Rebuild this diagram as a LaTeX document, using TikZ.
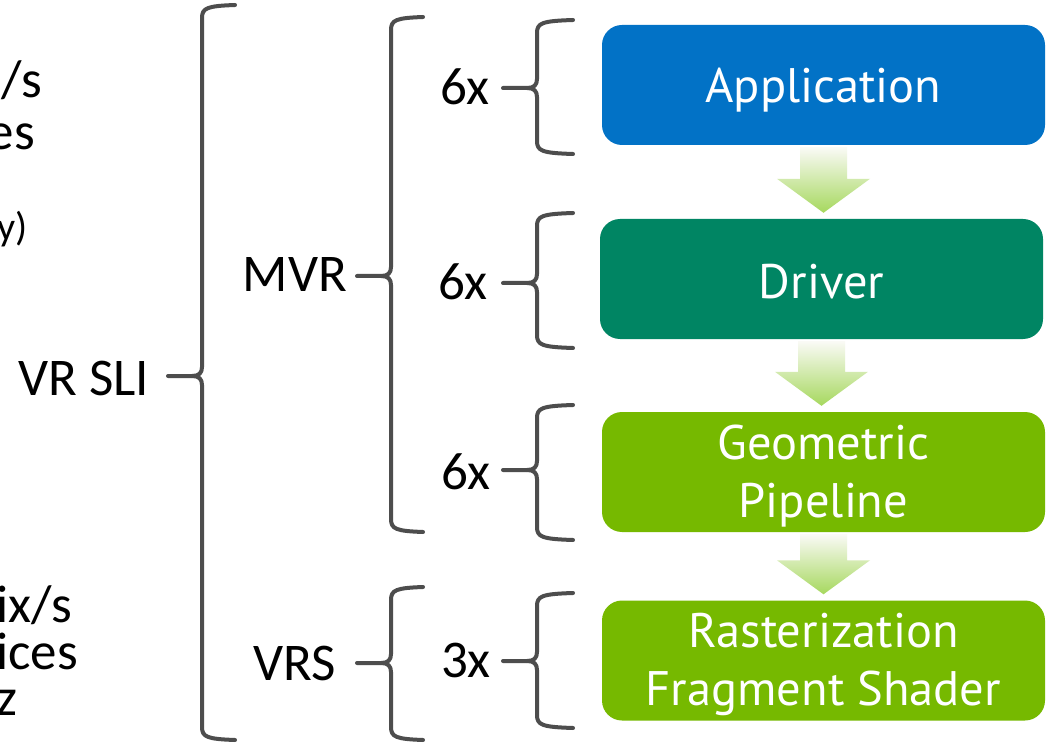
\documentclass[tikz,border=0pt]{standalone}
\usepackage{fontspec}
\setmainfont{Carlito}
\newfontfamily\boxfont{PT Sans}
\usetikzlibrary{calc}
\definecolor{appblue}{RGB}{2,114,198}
\definecolor{drvgreen}{RGB}{0,133,99}
\definecolor{nvgreen}{RGB}{118,185,0}
\definecolor{bracegray}{RGB}{77,77,77}
\definecolor{arrowtop}{RGB}{250,250,246}
\definecolor{arrowbot}{RGB}{166,216,94}
\tikzset{
  bracestroke/.style={draw=bracegray, line width=4pt, line cap=round, line join=round},
  stage/.style={rounded corners=20pt, minimum width=443pt, minimum height=120pt, inner sep=0pt},
  stagetext/.style={text=white, align=center, font=\boxfont\fontsize{48.5}{58}\selectfont, inner sep=0pt},
  lbl/.style={font=\fontsize{53}{60}\selectfont, text=black, inner sep=0pt, anchor=base},
  frag/.style={font=\fontsize{53}{60}\selectfont, text=black, inner sep=0pt, anchor=base east},
  arrowshade/.style={top color=arrowtop, bottom color=arrowbot, draw=none}
}
% xr, xv, xtip, ytop, ymid, ybot
\newcommand\drawmybrace[6]{%
  \draw[bracestroke] (#1,#4) .. controls (#2+5,#4+1) and (#2,#4+3) .. (#2,#4+13) -- (#2,#5-9) .. controls (#2,#5-3) and (#2-3,#5) .. (#2-10,#5) -- (#3,#5);
  \draw[bracestroke] (#1,#6) .. controls (#2+5,#6-1) and (#2,#6-3) .. (#2,#6-13) -- (#2,#5+9) .. controls (#2,#5+3) and (#2-3,#5) .. (#2-10,#5);
}
\newcommand\myblockarrow[2]{%
  \coordinate (ta) at ($(#1.south)+(0,2)$);
  \coordinate (tip) at ($(ta |- #2.north)+(0,-6)$);
  \shade[arrowshade] ($(ta)+(-23.5,0)$) -- ($(ta)+(23.5,0)$) -- ($(tip)+(23.5,-34)$) -- ($(tip)+(46.5,-34)$) -- (tip) -- ($(tip)+(-46.5,-34)$) -- ($(tip)+(-23.5,-34)$) -- cycle;
}
\begin{document}
\begin{tikzpicture}[x=1pt, y=-1pt]
\fill[white] (0,0) rectangle (1060,743);
\useasboundingbox (0,0) rectangle (1060,743);

% stages
\node[stage, fill=appblue] (app) at (823.5,85) {};
\node[stage, fill=drvgreen] (drv) at (821.5,279) {};
\node[stage, fill=nvgreen] (geo) at (823.5,472) {};
\node[stage, fill=nvgreen] (ras) at (823.5,660.5) {};
\node[stagetext] (appt) at ($(app.center)+(0,5)$) {Application};
\node[stagetext] (drvt) at ($(drv.center)+(0,3)$) {Driver};
\node[stagetext] (geot) at ($(geo.center)+(0,4)$) {Geometric\\Pipeline};
\node[stagetext] (rast) at ($(ras.center)+(0,4)$) {Rasterization\\Fragment Shader};

% block arrows
\myblockarrow{app}{drv}
\myblockarrow{drv}{geo}
\myblockarrow{geo}{ras}

% labels
\node[lbl] (vrsli) at (84,395) {VR SLI};
\node[lbl] (mvr) at (295,292) {MVR};
\node[lbl] (vrs) at (295,680) {VRS};
\node[lbl] (m1) at (465,105) {6x};
\node[lbl] (m2) at (463,300) {6x};
\node[lbl] (m3) at (466,489) {6x};
\node[lbl] (m4) at (466,677) {3x};

% cut-off fragments at left edge
\node[frag] (f1) at (42,98) {/s};
\node[frag] (f2) at (35,150) {es};
\node[frag, font=\fontsize{40}{44}\selectfont] (f3) at (28,241) {y)};
\node[frag] (f4) at (72,622) {ix/s};
\node[frag] (f5) at (78,669) {ices};
\node[frag] (f6) at (18,715) {z};

% braces
\drawmybrace{235}{202}{168}{5}{376}{740}
\drawmybrace{423}{391}{357}{17}{276}{532}
\drawmybrace{423}{391}{357}{587}{663}{740}
\drawmybrace{573}{537}{503}{20}{88}{154}
\drawmybrace{573}{537}{503}{213}{283}{348}
\drawmybrace{573}{537}{503}{405}{470}{540}
\drawmybrace{573}{537}{503}{593}{661}{728}
\end{tikzpicture}
\end{document}
